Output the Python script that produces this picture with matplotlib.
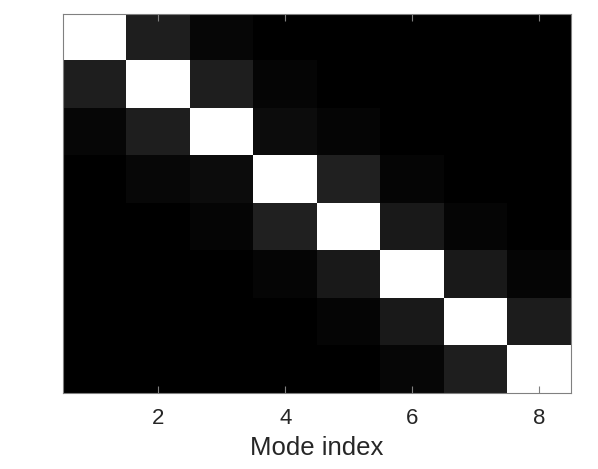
import numpy as np
import matplotlib
matplotlib.use("Agg")
import matplotlib.pyplot as plt

plt.rcParams['font.family'] = ['Liberation Sans', 'DejaVu Sans']

modes = [1, 2, 3, 4, 5, 6, 7, 8]
row1 = [1.00, 0.12, 0.024, 0.00, 0.00, 0.00, 0.00, 0.00]
row2 = [0.12, 1.00, 0.12, 0.022, 0.00, 0.00, 0.00, 0.00]
row3 = [0.024, 0.12, 1.00, 0.047, 0.02, 0.00, 0.00, 0.00]
row4 = [0.00, 0.028, 0.047, 1.00, 0.13, 0.02, 0.00, 0.00]
row5 = [0.00, 0.00, 0.02, 0.13, 1.00, 0.10, 0.02, 0.00]
row6 = [0.00, 0.00, 0.00, 0.02, 0.10, 1.00, 0.10, 0.02]
row7 = [0.00, 0.00, 0.00, 0.00, 0.02, 0.10, 1.00, 0.11]
row8 = [0.00, 0.00, 0.00, 0.00, 0.00, 0.025, 0.12, 1.00]
xticks = [2, 4, 6, 8]

M = np.array([row1, row2, row3, row4, row5, row6, row7, row8])

fig = plt.figure(figsize=(5.98, 4.69), dpi=100)
ax = fig.add_axes([63/598, 1 - 393/469, (571-63)/598, (393-14)/469])
ax.imshow(M, cmap='gray', vmin=0, vmax=1, aspect='auto', interpolation='nearest',
          extent=[0.5, 8.5, 8.5, 0.5])
ax.set_xticks(xticks)
ax.set_yticks([])
ax.tick_params(axis='x', direction='in', top=True, bottom=True, length=5,
               color='#808080', labelsize=16, labelcolor='#262626', pad=11)
for s in ax.spines.values():
    s.set_color('#808080')
    s.set_linewidth(0.8)
ax.set_xlabel('Mode index', fontsize=18.5, color='#262626', labelpad=5)
fig.savefig('out.png', dpi=100)
